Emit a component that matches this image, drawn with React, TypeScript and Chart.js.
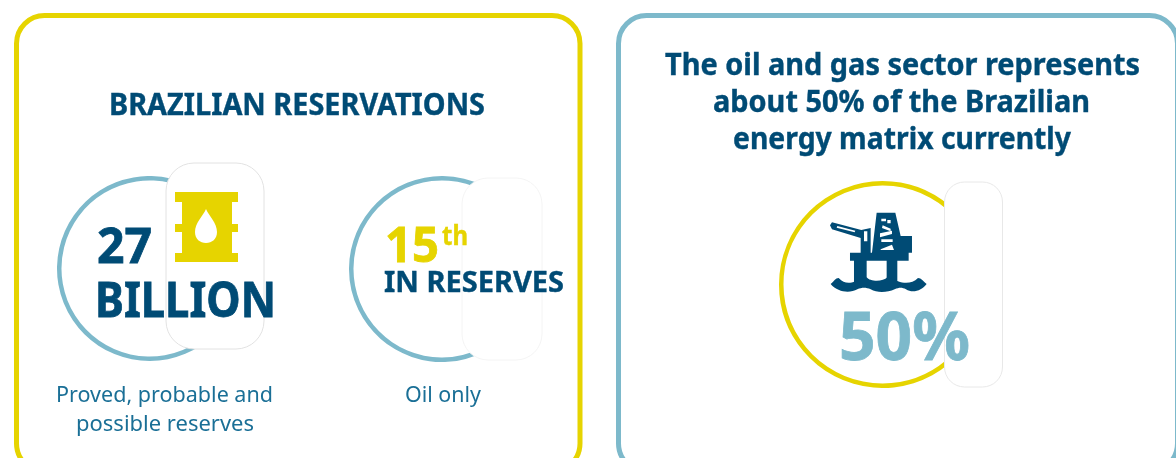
import { useEffect, useRef } from "react";
import { Chart, registerables } from "chart.js";

Chart.register(...registerables);

const YELLOW = "#e6d400";
const TEAL = "#7db9cb";
const NAVY = "#004b75";
const CAPTION = "#1a6f96";
const FONT = "'Noto Sans', sans-serif";

// Visible sweep of each ring in degrees, and the bearing where it starts
const ringLabels = ["27 billion", "15th in reserves", "50%"];
const ringSweeps = [228, 233, 260];
const ringStarts = [146, 154, 140];
const ringColors = [TEAL, TEAL, YELLOW];
const ringCenters = [[149.5, 268.5], [441.5, 268.5], [882.5, 284.5]];
const ringRadii = [92.5, 93, 103.5];
const ringWidths = [4.5, 4.5, 4.5];

type Line = [string, number, number, number, number, number, string, number];
// text, left, right, baseline, size, weight, colour, extra stroke weight
const textLines: Line[] = [
  ["BRAZILIAN RESERVATIONS", 109, 485, 115, 30, 700, NAVY, 0.4],
  ["27", 97, 152, 263, 49, 700, NAVY, 0.8],
  ["BILLION", 95, 276, 317, 49, 700, NAVY, 0.8],
  ["15", 385, 439, 262, 48, 700, YELLOW, 0.8],
  ["th", 442, 468, 245, 27, 700, YELLOW, 0.4],
  ["IN RESERVES", 384, 564, 292, 29, 700, NAVY, 0.4],
  ["Proved, probable and", 56, 273, 402, 22, 400, CAPTION, 0],
  ["possible reserves", 76, 254, 431, 22, 400, CAPTION, 0],
  ["Oil only", 405, 481, 402, 22, 400, CAPTION, 0],
  ["The oil and gas sector represents", 665, 1140, 75, 30, 700, NAVY, 0.4],
  ["about 50% of the Brazilian", 713, 1090, 112, 30, 700, NAVY, 0.4],
  ["energy matrix currently", 733, 1071, 149, 30, 700, NAVY, 0.4],
  ["50%", 839, 970, 360, 66, 700, TEAL, 0.8],
];

function Ring({ index }: { index: number }) {
  const ref = useRef<HTMLCanvasElement>(null);
  const radius = ringRadii[index];
  const [cx, cy] = ringCenters[index];
  const size = Math.ceil(radius * 2);

  useEffect(() => {
    if (!ref.current) return;
    const chart = new Chart(ref.current, {
      type: "doughnut",
      data: {
        labels: [ringLabels[index], ""],
        datasets: [
          {
            data: [ringSweeps[index], 360 - ringSweeps[index]],
            backgroundColor: [ringColors[index], "rgba(0,0,0,0)"],
            borderWidth: 0,
          },
        ],
      },
      options: {
        responsive: false,
        animation: false,
        rotation: ringStarts[index],
        cutout: radius - ringWidths[index],
        plugins: { legend: { display: false }, tooltip: { enabled: false } },
        layout: { padding: 0 },
      },
    });
    return () => chart.destroy();
  }, [index, radius]);

  return (
    <canvas
      ref={ref}
      width={size}
      height={size}
      style={{ position: "absolute", left: cx - size / 2, top: cy - size / 2, width: size, height: size }}
    />
  );
}

function Barrel() {
  return (
    <g transform="translate(175 192)">
      <path fill={YELLOW} d="M0 0H63V10H57V32H63V40H57V61H63V70H0V61H7V40H0V32H7V10H0Z" />
      <path
        fill="#fff"
        d="M31 17C34 24 42 31 42 40C42 47 37 51 31 51C25 51 20 47 20 40C20 31 28 24 31 17Z"
      />
    </g>
  );
}

// Offshore platform, laid out on a 3x grid so the small parts stay legible
function Rig() {
  return (
    <g transform="translate(770 170) scale(0.3333)" fill={NAVY}>
      <path d="M320 128H376L392 198H426V248H416V272H382V340H350V272H290V340H252V272H240V248H272V204L186 178L180 166L186 157L274 180L302 174V248H306Z" />
      <path d="M182 342C192 334 196 324 206 324C222 340 236 342 256 334L290 322C300 336 340 336 352 322L384 334C406 342 428 340 444 324C454 324 460 334 470 342C456 360 430 372 408 358C396 352 388 352 374 358C352 368 322 370 302 358C288 352 276 352 262 358C240 370 204 368 182 342Z" />
      <g fill="#fff">
        <path d="M334 146H348V154H334ZM352 150H362V160H352ZM338 166L362 176V184L336 174ZM330 190L366 182V192L330 202ZM334 208H368V216H334ZM332 238L366 224L372 240H332ZM282 184H292V214H282Z" />
        <path d="M202 168L256 182L254 187L200 173Z" />
      </g>
    </g>
  );
}

export default function App() {
  return (
    <div style={{ position: "fixed", left: 0, top: 0, width: 1176, height: 458, overflow: "hidden", background: "#fff" }}>
      {ringCenters.map((_, i) => (
        <Ring key={i} index={i} />
      ))}
      <svg width={1176} height={458} style={{ position: "absolute", left: 0, top: 0 }}>
        <rect x={16.5} y={15.5} width={563.5} height={456} rx={28} fill="none" stroke={YELLOW} strokeWidth={5} />
        <rect x={618.5} y={15.5} width={559} height={456} rx={28} fill="none" stroke={TEAL} strokeWidth={5} />

        <rect x={166} y={163} width={98} height={186} rx={28} fill="#fff" stroke="#e2e2e2" strokeWidth={1} />
        <rect x={462} y={178} width={80} height={182} rx={26} fill="#fff" stroke="#f4f4f4" strokeWidth={1} />
        <rect x={944.5} y={182} width={58} height={205} rx={20} fill="#fff" stroke="#e8e8e8" strokeWidth={1} />

        <Barrel />
        <Rig />

        {textLines.map(([text, left, right, baseline, size, weight, color, heft]) => (
          <text
            key={text}
            x={left}
            y={baseline}
            textLength={right - left}
            lengthAdjust="spacingAndGlyphs"
            fontFamily={FONT}
            fontSize={size}
            fontWeight={weight}
            fill={color}
            stroke={color}
            strokeWidth={heft}
          >
            {text}
          </text>
        ))}
      </svg>
    </div>
  );
}
